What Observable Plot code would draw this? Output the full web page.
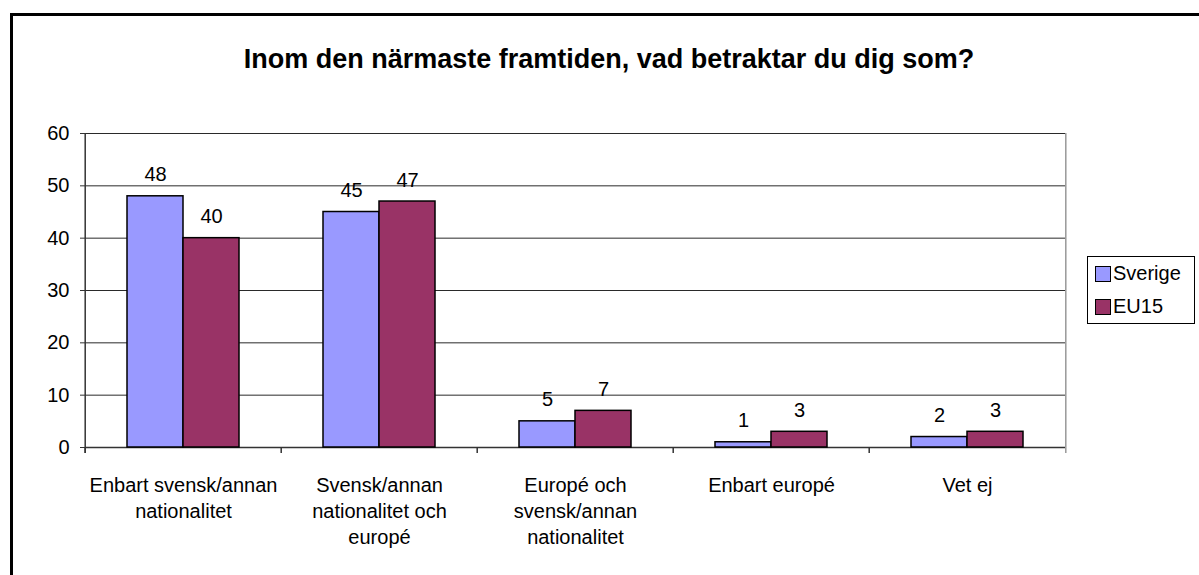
<!DOCTYPE html>
<html><head><meta charset="utf-8">
<script src="https://cdn.jsdelivr.net/npm/d3@7"></script>
<script src="https://cdn.jsdelivr.net/npm/@observablehq/plot@0.6"></script>
<style>
html,body{margin:0;padding:0;width:1199px;height:575px;overflow:hidden;background:#fff;font-family:"Liberation Sans",Arial,sans-serif;}
#frame{position:absolute;left:10px;top:13px;width:1400px;height:800px;border:3px solid #000;box-sizing:border-box;}
#chart{position:absolute;left:0;top:0;}
#title{position:absolute;left:0;top:46px;width:1218px;text-align:center;font-size:27px;font-weight:bold;line-height:26px;z-index:2;color:#000;}
#legend{position:absolute;left:1087px;top:256px;width:108px;border:1px solid #000;box-sizing:border-box;background:#fff;z-index:2;}
#legend .item{height:33px;display:flex;align-items:center;padding-left:7px;font-size:20px;color:#000;}
#legend .sw{width:16px;height:16px;box-sizing:border-box;border:1.5px solid #000;margin-right:2px;}
</style></head><body>
<div id="frame"></div>
<div id="chart"></div>
<div id="title"></div>
<div id="legend"></div>
<script>
const titleText = "Inom den närmaste framtiden, vad betraktar du dig som?";
const categories = ["Enbart svensk/annan nationalitet", "Svensk/annan nationalitet och europé", "Europé och svensk/annan nationalitet", "Enbart europé", "Vet ej"];
const tickLabels = ["Enbart svensk/annan\nnationalitet", "Svensk/annan\nnationalitet och\neuropé", "Europé och\nsvensk/annan\nnationalitet", "Enbart europé", "Vet ej"];
const seriesNames = ["Sverige", "EU15"];
const sverige = [48, 45, 5, 1, 2];
const eu15 = [40, 47, 7, 3, 3];
const yTicks = [0, 10, 20, 30, 40, 50, 60];
const colors = ["#9999ff", "#993366"];

const rows = categories.flatMap((c, i) => [
  {cat: c, series: seriesNames[0], value: sverige[i]},
  {cat: c, series: seriesNames[1], value: eu15[i]}
]);

const W = 1199, H = 575, ML = 83, MR = 133, MT = 133, MB = 128;
const bw = (W - ML - MR) / categories.length;
const plotH = H - MT - MB;
const axisDark = "#333";

const chart = Plot.plot({
  width: W, height: H,
  marginLeft: ML, marginRight: MR, marginTop: MT, marginBottom: MB,
  style: {fontSize: "20px", fontFamily: "'Liberation Sans', Arial, sans-serif", background: "transparent", color: "#000", overflow: "visible"},
  fx: {domain: categories, paddingInner: 0, paddingOuter: 0, label: null},
  x: {domain: seriesNames, paddingInner: 0, paddingOuter: 0.74, axis: null},
  y: {domain: [0, 60], label: null},
  color: {domain: seriesNames, range: colors},
  marks: [
    Plot.ruleY(yTicks.filter(d => d > 0), {stroke: "#2a2a2a", strokeWidth: 1}),
    Plot.ruleY([0], {stroke: axisDark, strokeWidth: 1.5}),
    Plot.ruleX(categories, {fx: d => d, x: null, dx: -bw / 2, insetTop: plotH, insetBottom: -6, stroke: axisDark, strokeWidth: 1.5}),
    Plot.ruleX([categories[0]], {fx: d => d, x: null, dx: -bw / 2, insetBottom: -6, stroke: axisDark, strokeWidth: 1.5}),
    Plot.ruleX([categories[categories.length - 1]], {fx: d => d, x: null, dx: bw / 2, insetBottom: -6, stroke: "#999", strokeWidth: 1.5}),
    Plot.barY(rows, {fx: "cat", x: "series", y: "value", fill: "series", stroke: "#000", strokeWidth: 1.5}),
    Plot.text(rows, {fx: "cat", x: "series", y: "value", text: d => String(d.value), lineAnchor: "bottom", dy: -15, fill: "#000"}),
    Plot.axisY({ticks: yTicks, tickSize: 5, tickPadding: 11, label: null, tickFormat: d => String(d), stroke: axisDark}),
    Plot.axisFx({anchor: "bottom", tickSize: 0, tickPadding: 26, label: null, lineHeight: 1.3, tickFormat: d => tickLabels[categories.indexOf(d)]})
  ]
});
document.getElementById("chart").appendChild(chart);
document.getElementById("title").textContent = titleText;

const legend = document.getElementById("legend");
seriesNames.forEach((s, i) => {
  const item = document.createElement("div");
  item.className = "item";
  const sw = document.createElement("div");
  sw.className = "sw";
  sw.style.background = colors[i];
  const t = document.createElement("span");
  t.textContent = s;
  item.appendChild(sw);
  item.appendChild(t);
  legend.appendChild(item);
});
</script>
</body></html>
